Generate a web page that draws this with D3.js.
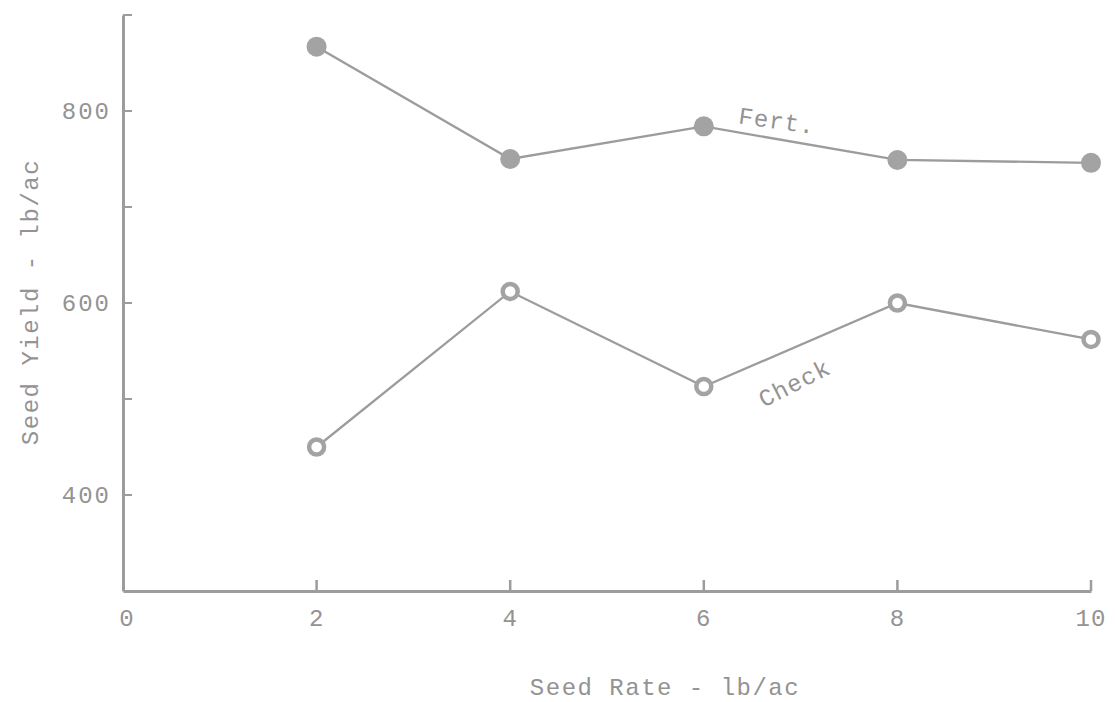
<!DOCTYPE html>
<html><head><meta charset="utf-8">
<script src="https://cdn.jsdelivr.net/npm/d3@7"></script>
<style>
body{margin:0;background:#fff;}
text{font-family:"Liberation Mono","Courier New",monospace;fill:#939393;}
</style></head>
<body>
<svg id="c" width="1115" height="702"></svg>
<script>
const seedRates = [2, 4, 6, 8, 10];
const fertYield = [867, 750, 784, 749, 746];
const checkYield = [450, 612, 513, 600, 562];
const xTicks = [0, 2, 4, 6, 8, 10];
const yTicks = [400, 500, 600, 700, 800, 900];
const yTickLabels = [400, 600, 800];

const svg = d3.select("#c");
const x = d3.scaleLinear().domain([0, 10]).range([123, 1091]);
const y = d3.scaleLinear().domain([300, 900]).range([591, 15]);
const col = "#9c9c9c";

// axes
const xAxis = svg.append("g").attr("transform", `translate(0,${y(300)})`)
  .call(d3.axisBottom(x).tickValues(xTicks).tickSize(0).tickFormat(""));
xAxis.select(".domain").attr("stroke", col).attr("stroke-width", 3);
svg.selectAll(".xt").data(xTicks.filter(d => d > 0)).enter().append("line")
  .attr("x1", d => x(d)).attr("x2", d => x(d)).attr("y1", y(300)).attr("y2", y(300) - 11)
  .attr("stroke", col).attr("stroke-width", 2.5);
svg.selectAll(".xl").data(xTicks).enter().append("text")
  .attr("x", d => x(d) + (d === 0 ? 4 : 0)).attr("y", 626).attr("text-anchor", "middle")
  .style("font-size", "24px").style("letter-spacing", "1px").text(d => d);

const yAxis = svg.append("g").attr("transform", `translate(${x(0)},0)`)
  .call(d3.axisLeft(y).tickValues(yTicks).tickSize(0).tickFormat(""));
yAxis.select(".domain").attr("stroke", col).attr("stroke-width", 3);
svg.selectAll(".yt").data(yTicks).enter().append("line")
  .attr("x1", x(0)).attr("x2", x(0) + 9).attr("y1", d => y(d)).attr("y2", d => y(d))
  .attr("stroke", col).attr("stroke-width", 2);
svg.selectAll(".yl").data(yTickLabels).enter().append("text")
  .attr("x", 111).attr("y", d => y(d) + 8).attr("text-anchor", "end")
  .style("font-size", "24px").style("letter-spacing", "2px").text(d => d);

// axis titles
svg.append("text").attr("x", 665).attr("y", 695).attr("text-anchor", "middle")
  .style("font-size", "24px").style("letter-spacing", "1.5px").text("Seed Rate - lb/ac");
svg.append("text").attr("transform", `translate(38,${302}) rotate(-90)`).attr("text-anchor", "middle")
  .style("font-size", "24px").style("letter-spacing", "1.5px").text("Seed Yield - lb/ac");

// lines
const line = d3.line().x(d => x(d[0])).y(d => y(d[1]));
const fert = seedRates.map((r, i) => [r, fertYield[i]]);
const check = seedRates.map((r, i) => [r, checkYield[i]]);
svg.append("path").datum(fert).attr("d", line).attr("fill", "none").attr("stroke", col).attr("stroke-width", 2.3);
svg.append("path").datum(check).attr("d", line).attr("fill", "none").attr("stroke", col).attr("stroke-width", 2.3);

svg.selectAll(".fp").data(fert).enter().append("circle")
  .attr("cx", d => x(d[0])).attr("cy", d => y(d[1])).attr("r", 10).attr("fill", "#a3a3a3");
svg.selectAll(".cp").data(check).enter().append("circle")
  .attr("cx", d => x(d[0])).attr("cy", d => y(d[1])).attr("r", 7.5)
  .attr("fill", "#fff").attr("stroke", "#a3a3a3").attr("stroke-width", 4.5);

// series labels
svg.append("text").attr("transform", `translate(${x(6.35)},${y(784) - 3}) rotate(8)`)
  .style("font-size", "24px").style("letter-spacing", "1px").text("Fert.");
svg.append("text").attr("transform", `translate(${x(6.62)},${y(491)}) rotate(-27)`)
  .style("font-size", "24px").style("letter-spacing", "1px").text("Check");
</script>
</body></html>
